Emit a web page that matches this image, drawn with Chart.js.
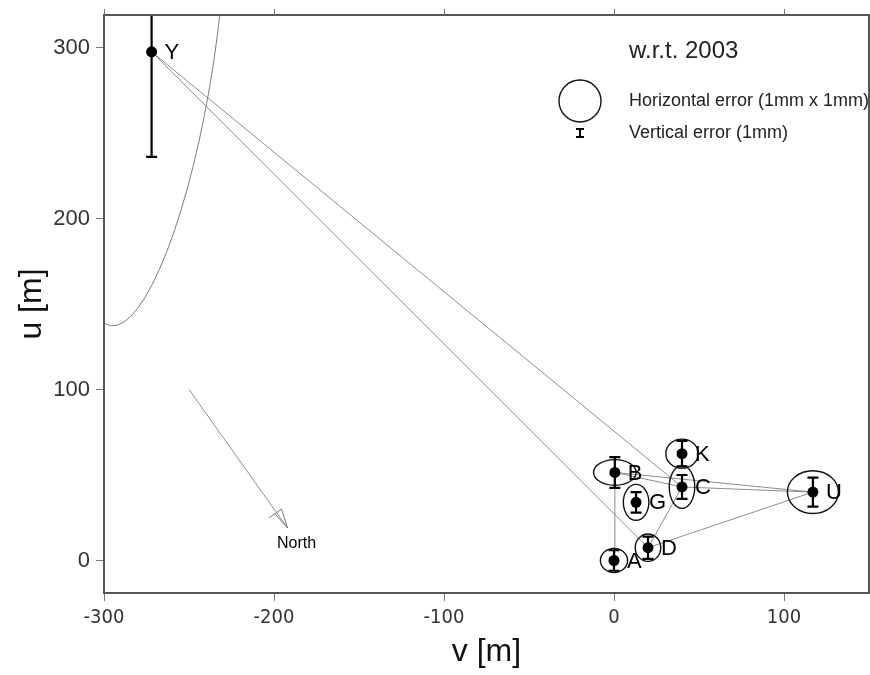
<!DOCTYPE html>
<html>
<head>
<meta charset="utf-8">
<script src="https://cdn.jsdelivr.net/npm/chart.js@4.4.1/dist/chart.umd.min.js"></script>
<style>
  html, body { margin: 0; padding: 0; background: #fff; }
  #wrap { width: 870px; height: 675px; }
</style>
</head>
<body>
<div id="wrap"><canvas id="netChart"></canvas></div>
<script>
// stations, position in m (v east-ish, u north-ish), w.r.t. 2003
const stations = ['A', 'B', 'G', 'C', 'K', 'D', 'U', 'Y'];
const vPos = [0, 0.5, 13, 40, 40, 20, 117, -272];
const uPos = [0, 51.5, 34, 43, 62.5, 7.5, 40, 297.5];
// vertical error (half bar, m)
const vertErr = [6, 9, 6, 7, 7.5, 6.5, 8.5, 61.5];
// horizontal error ellipse: semi axes along v and u (m), tilt in degrees
const ellV = [8, 12.5, 7.5, 7.5, 9.5, 7.5, 15, 37];
const ellU = [7, 7.5, 10.5, 12.5, 8.5, 8, 12.5, 162];
const ellTilt = [0, 0, 0, 0, 0, 0, 0, 8.5];

// measured baselines
const links = [['Y', 'C'], ['Y', 'D'], ['A', 'B'], ['B', 'C'], ['B', 'U'], ['C', 'U'], ['C', 'D'], ['D', 'U']];

// north arrow (m)
const northFrom = [-250, 100];
const northTo = [-192, 19];

const xTicks = [-300, -200, -100, 0, 100];
const yTicks = [0, 100, 200, 300];

const SANS = '"Liberation Sans", Arial, sans-serif';
const NARROW = '"Liberation Sans Narrow", "DejaVu Sans Condensed", "Liberation Sans", sans-serif';

function pt(name) {
    const i = stations.indexOf(name);
    return { x: vPos[i], y: uPos[i] };
}

// no extra label padding, the frame is fixed by layout padding
function noPad(s) {
    s.paddingTop = 0;
    s.paddingBottom = 0;
    s.paddingLeft = 0;
    s.paddingRight = 0;
}

const linkSets = links.map(l => ({
    type: 'line',
    data: [pt(l[0]), pt(l[1])],
    borderColor: '#8c8c8c',
    borderWidth: 1,
    pointRadius: 0,
    fill: false,
    order: 3
}));

const northSet = {
    type: 'line',
    data: [{ x: northFrom[0], y: northFrom[1] }, { x: northTo[0], y: northTo[1] }],
    borderColor: '#8c8c8c',
    borderWidth: 1,
    pointRadius: 0,
    fill: false,
    order: 3
};

const stationSet = {
    type: 'scatter',
    data: stations.map((s, i) => ({ x: vPos[i], y: uPos[i] })),
    backgroundColor: '#000',
    borderWidth: 0,
    pointRadius: 5.5,
    pointHoverRadius: 5.5,
    order: 1
};

// ellipses, error bars, labels, legend box, north arrow head, frame
const extras = {
    id: 'extras',
    afterDatasetsDraw(chart) {
        const { ctx, chartArea: a, scales: { x, y } } = chart;
        const sx = Math.abs(x.getPixelForValue(1) - x.getPixelForValue(0));
        const sy = Math.abs(y.getPixelForValue(1) - y.getPixelForValue(0));
        ctx.save();
        ctx.beginPath();
        ctx.rect(a.left, a.top, a.right - a.left, a.bottom - a.top);
        ctx.clip();

        stations.forEach((s, i) => {
            const cx = x.getPixelForValue(vPos[i]);
            const cy = y.getPixelForValue(uPos[i]);

            // horizontal error ellipse
            const big = ellU[i] > 50;
            ctx.beginPath();
            ctx.ellipse(cx, cy, ellV[i] * sx, ellU[i] * sy, ellTilt[i] * Math.PI / 180, 0, 2 * Math.PI);
            ctx.strokeStyle = big ? '#7a7a7a' : '#111';
            ctx.lineWidth = big ? 1 : 1.4;
            ctx.stroke();

            // vertical error bar
            const top = y.getPixelForValue(uPos[i] + vertErr[i]);
            const bot = y.getPixelForValue(uPos[i] - vertErr[i]);
            ctx.beginPath();
            ctx.moveTo(cx, top); ctx.lineTo(cx, bot);
            ctx.moveTo(cx - 5.5, top); ctx.lineTo(cx + 5.5, top);
            ctx.moveTo(cx - 5.5, bot); ctx.lineTo(cx + 5.5, bot);
            ctx.strokeStyle = '#000';
            ctx.lineWidth = 2.2;
            ctx.stroke();

            // station name
            ctx.fillStyle = '#000';
            ctx.font = '22px ' + SANS;
            ctx.textAlign = 'left';
            ctx.textBaseline = 'middle';
            ctx.fillText(s, cx + 13, cy + 1);
        });

        // north arrow head
        const tx = x.getPixelForValue(northTo[0]), ty = y.getPixelForValue(northTo[1]);
        const fx = x.getPixelForValue(northFrom[0]), fy = y.getPixelForValue(northFrom[1]);
        const len = Math.hypot(tx - fx, ty - fy);
        const dx = (tx - fx) / len, dy = (ty - fy) / len;
        const bx = tx - 19 * dx, by = ty - 19 * dy;
        ctx.beginPath();
        ctx.moveTo(bx - 9 * dy, by + 9 * dx);
        ctx.lineTo(bx + 6 * dy, by - 6 * dx);
        ctx.lineTo(tx, ty);
        ctx.lineTo(bx - 2 * dy, by + 2 * dx);
        ctx.strokeStyle = '#777';
        ctx.lineWidth = 1;
        ctx.stroke();
        ctx.fillStyle = '#000';
        ctx.font = '16px ' + SANS;
        ctx.textAlign = 'center';
        ctx.fillText('North', tx + 9, ty + 16);
        ctx.restore();

        // legend box (top right)
        ctx.save();
        ctx.fillStyle = '#222';
        ctx.textAlign = 'left';
        ctx.textBaseline = 'middle';
        ctx.font = '24px ' + SANS;
        ctx.fillText('w.r.t. 2003', 629, 51);
        ctx.font = '18px ' + SANS;
        ctx.fillText('Horizontal error (1mm x 1mm)', 629, 101);
        ctx.fillText('Vertical error (1mm)', 629, 133);
        ctx.beginPath();
        ctx.arc(580, 101, 21, 0, 2 * Math.PI);
        ctx.strokeStyle = '#111';
        ctx.lineWidth = 1.4;
        ctx.stroke();
        ctx.beginPath();
        ctx.moveTo(580, 129); ctx.lineTo(580, 137);
        ctx.moveTo(576, 129); ctx.lineTo(584, 129);
        ctx.moveTo(576, 137); ctx.lineTo(584, 137);
        ctx.strokeStyle = '#000';
        ctx.lineWidth = 2;
        ctx.stroke();

        // frame and top ticks
        ctx.strokeStyle = '#555';
        ctx.lineWidth = 2;
        ctx.strokeRect(a.left, a.top, a.right - a.left, a.bottom - a.top);
        ctx.lineWidth = 1;
        ctx.strokeStyle = '#777';
        ctx.beginPath();
        xTicks.forEach(v => {
            const px = Math.round(x.getPixelForValue(v)) + 0.5;
            ctx.moveTo(px, a.top); ctx.lineTo(px, a.top - 6);
        });
        ctx.stroke();
        ctx.restore();
    }
};

new Chart(document.getElementById('netChart'), {
    type: 'scatter',
    data: { datasets: [...linkSets, northSet, stationSet] },
    options: {
        responsive: true,
        maintainAspectRatio: false,
        animation: false,
        events: [],
        layout: { autoPadding: false, padding: { top: 15, right: 1, left: 0, bottom: 0 } },
        plugins: {
            legend: { display: false },
            tooltip: { enabled: false }
        },
        scales: {
            x: {
                type: 'linear',
                position: 'bottom',
                min: -300,
                max: 150,
                afterBuildTicks: s => { s.ticks = xTicks.map(v => ({ value: v })); },
                afterFit: s => { s.height = 82; noPad(s); },
                grid: { drawOnChartArea: false, drawTicks: true, tickLength: 8, color: '#777' },
                border: { display: false },
                ticks: { font: { family: NARROW, size: 20 }, color: '#333', padding: 5, maxRotation: 0 },
                title: { display: true, text: 'v [m]', font: { family: SANS, size: 32 }, color: '#111', padding: { bottom: 4 } }
            },
            y: {
                type: 'linear',
                min: -19,
                max: 319,
                afterBuildTicks: s => { s.ticks = yTicks.map(v => ({ value: v })); },
                afterFit: s => { s.width = 104; noPad(s); },
                grid: { drawOnChartArea: false, drawTicks: true, tickLength: 8, color: '#777' },
                border: { display: false },
                ticks: { font: { family: SANS, size: 22 }, color: '#333', padding: 6 },
                title: { display: true, text: 'u [m]', font: { family: SANS, size: 32 }, color: '#111', padding: { top: 13 } }
            }
        }
    },
    plugins: [extras]
});
</script>
</body>
</html>
